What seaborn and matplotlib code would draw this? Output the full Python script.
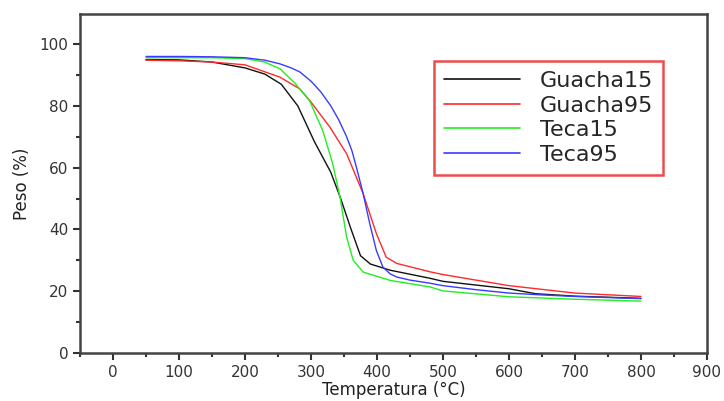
import pandas as pd
import matplotlib
matplotlib.use("Agg")
import matplotlib.pyplot as plt
from matplotlib.ticker import MultipleLocator
import seaborn as sns

# curves (temperature in C, weight in %)
t_guacha15 = [50, 100, 150, 200, 230, 255, 280, 305, 330, 345, 360, 375, 390, 420, 480, 500, 600, 640, 700, 800]
w_guacha15 = [95.0, 94.9, 94.2, 92.3, 90.3, 87.0, 80.0, 68.5, 58.5, 50.0, 40.5, 31.5, 28.8, 26.8, 24.2, 23.2, 20.8, 19.2, 18.4, 17.7]

t_guacha95 = [50, 100, 150, 200, 253, 283, 298, 329, 354, 379, 399, 414, 430, 480, 500, 600, 700, 800]
w_guacha95 = [94.8, 94.6, 94.2, 93.3, 89.3, 85.5, 81.8, 73.0, 64.5, 51.6, 38.7, 31.0, 29.0, 26.3, 25.4, 21.8, 19.4, 18.3]

t_teca15 = [50, 100, 150, 200, 230, 253, 275, 298, 318, 333, 344, 354, 364, 379, 420, 480, 500, 600, 700, 800]
w_teca15 = [95.6, 95.6, 95.6, 95.3, 94.2, 92.0, 87.5, 81.6, 71.9, 61.2, 50.4, 37.5, 30.0, 26.2, 23.5, 21.4, 20.1, 18.2, 17.4, 16.8]

t_teca95 = [50, 100, 150, 200, 230, 253, 270, 283, 300, 315, 330, 342, 354, 362, 369, 379, 389, 399, 409,
            420, 430, 450, 480, 500, 550, 600, 650, 700, 800]
w_teca95 = [96.0, 96.0, 95.9, 95.6, 94.8, 93.6, 92.3, 91.0, 88.0, 84.5, 80.0, 75.5, 70.0, 65.5, 60.0, 51.6,
            41.9, 33.2, 27.8, 25.6, 24.6, 23.6, 22.6, 21.8, 20.5, 19.4, 18.8, 18.3, 17.6]

series = {
    "Guacha15": (t_guacha15, w_guacha15),
    "Guacha95": (t_guacha95, w_guacha95),
    "Teca15": (t_teca15, w_teca15),
    "Teca95": (t_teca95, w_teca95),
}
colors = {"Guacha15": "#111111", "Guacha95": "#ff2a2a", "Teca15": "#22ee22", "Teca95": "#3a3aff"}

frames = []
for name, (t, w) in series.items():
    frames.append(pd.DataFrame({"T": t, "W": w, "muestra": name}))
df = pd.concat(frames, ignore_index=True)

sns.set_style("white")
plt.rcParams["font.family"] = ["DejaVu Sans"]

fig = plt.figure(figsize=(7.24, 4.01), dpi=100)
ax = fig.add_axes([0.1105, 0.1197, 0.866, 0.845])

sns.lineplot(data=df, x="T", y="W", hue="muestra", palette=colors,
             sort=False, estimator=None, linewidth=1.0, ax=ax)

ax.set_xlim(-50, 900)
ax.set_ylim(0, 109.7)
ax.xaxis.set_major_locator(MultipleLocator(100))
ax.xaxis.set_minor_locator(MultipleLocator(50))
ax.yaxis.set_major_locator(MultipleLocator(20))
ax.yaxis.set_minor_locator(MultipleLocator(10))
ax.tick_params(which="both", direction="out", bottom=True, left=True,
               top=False, right=False, color="#333333", width=1.5)
ax.tick_params(which="major", length=5, labelsize=11, labelcolor="#333333")
ax.tick_params(which="minor", length=3)
for sp in ax.spines.values():
    sp.set_linewidth(1.8)
    sp.set_color("#444444")

ax.set_xlabel("Temperatura (\u00b0C)", fontsize=12, color="#222222", labelpad=1)
ax.set_ylabel("Peso (%)", fontsize=12, color="#222222", labelpad=6)

leg = ax.legend(loc="upper left", bbox_to_anchor=(0.565, 0.861), borderaxespad=0,
                fontsize=16, handlelength=3.4, handletextpad=0.9, labelspacing=0.2,
                borderpad=0.45, fancybox=False, frameon=True, title=None)
leg.get_frame().set_edgecolor("#e82020")
leg.get_frame().set_linewidth(1.8)
for line in leg.get_lines():
    line.set_linewidth(1.2)

fig.savefig("out.png", dpi=100)
